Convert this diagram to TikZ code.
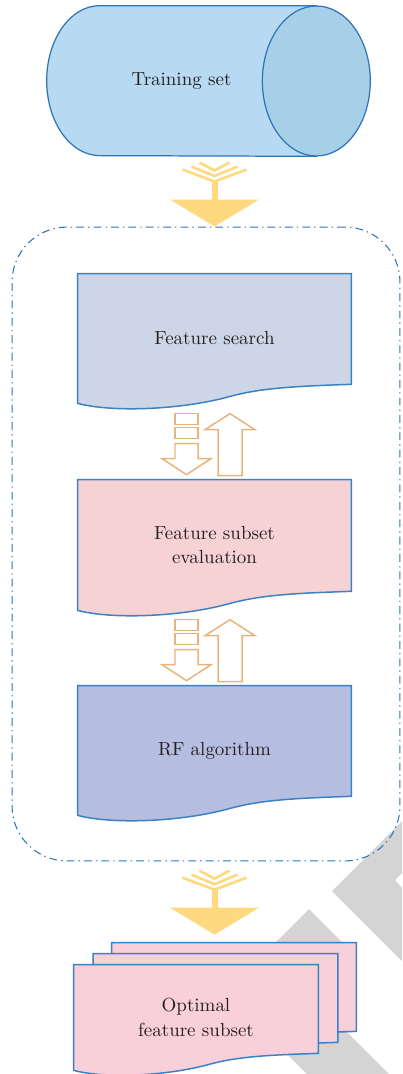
\documentclass[tikz,border=0pt]{standalone}
\usetikzlibrary{calc,backgrounds}
\definecolor{cylbody}{HTML}{B7DAF2}
\definecolor{cylend}{HTML}{A8CFE8}
\definecolor{cylline}{HTML}{2E75B6}
\definecolor{funnel}{HTML}{FFD97F}
\definecolor{searchfill}{HTML}{CCD6E6}
\definecolor{evalfill}{HTML}{F7D2D5}
\definecolor{rffill}{HTML}{B5BDE0}
\definecolor{optfill}{HTML}{F9CFD9}
\definecolor{docline}{HTML}{3A82C4}
\definecolor{swapline}{HTML}{E8B47E}
\definecolor{wmgray}{HTML}{D4D4D4}
\definecolor{ink}{HTML}{231F20}

\newcommand\docoutline[3]{%
  \begin{scope}[shift={(#1.south east)},scale=#3]
    \draw[docedge,fill=#2] (#1.north west) -- (#1.north east) -- (0,-19)
      .. controls (-61,-17) and (-91,-15) .. (-121,-7)
      .. controls (-171,7) and (-241,9) .. (#1.south west) -- cycle;
  \end{scope}}
\newcommand\funnelarrow[1]{%
  \begin{scope}[shift={(#1)}]
    \fill[funnel] (0,0) -- (-44.5,-27) -- (44.5,-27) -- cycle;
    \fill[funnel] (-3,-26) rectangle (3,-45);
    \draw[funnel,line width=1.5pt] (-32,-57) -- (0,-45) -- (32,-57);
    \draw[funnel,line width=1.5pt] (-23,-60) -- (0,-50.5) -- (23,-60);
    \draw[funnel,line width=1.5pt] (-15,-64) -- (0,-56) -- (15,-64);
  \end{scope}}
\newcommand\swaparrows[1]{%
  \begin{scope}[shift={(#1.north)}]
    \draw[swapedge] (-39.5,-66) rectangle (-16.5,-55);
    \draw[swapedge] (-39.5,-52) rectangle (-16.5,-41);
    \draw[swapedge] (-39.5,-36) -- (-16.5,-36) -- (-16.5,-21) -- (-3.5,-21)
      -- (-28,-5) -- (-52.5,-21) -- (-39.5,-21) -- cycle;
    \draw[swapedge] (15.5,-66) -- (40.5,-50) -- (27.5,-50) -- (27.5,-4)
      -- (3.5,-4) -- (3.5,-50) -- (-9.5,-50) -- cycle;
  \end{scope}}

\begin{document}
\begin{tikzpicture}[x=0.02cm,y=-0.02cm,
    every node/.style={text=ink,font=\fontsize{10.8}{14}\selectfont},
    docbox/.style={inner sep=0pt,minimum width=5.46cm,minimum height=2.58cm,align=center},
    stackbox/.style={inner sep=0pt,minimum width=4.88cm,minimum height=2.1cm,align=center},
    docedge/.style={draw=docline,line width=0.85pt},
    swapedge/.style={draw=swapline,line width=0.85pt,fill=white},
    loopbox/.style={draw=cylline,line width=0.6pt,rounded corners=1.1cm,
      dash pattern=on 4.5pt off 2.3pt on 0.8pt off 2.3pt,inner sep=0pt}]
\useasboundingbox (0,0) rectangle (402,1074);

\node[inner sep=0pt,minimum width=5.38cm,minimum height=3cm] (train) at (181.5,81) {Training set};
\node[loopbox,minimum width=7.76cm,minimum height=12.68cm] (loop) at (206,544) {};
\node[docbox] (search) at (214.5,338.5) {Feature search};
\node[docbox,minimum height=2.6cm] (eval) at (214.5,545) {Feature subset\\evaluation};
\node[docbox] (rf) at (214.5,750.5) {RF algorithm};
\node[stackbox] (back) at (234,995.5) {};
\node[stackbox] (middle) at (215.5,1006.5) {};
\node[stackbox] (optimal) at (196,1017.5) {Optimal\\feature subset};

\begin{scope}[on background layer]
  \fill[wmgray] (402,821) -- (332,891) -- (402,961) -- (402,888) -- (395,880) -- (402,873) -- cycle;
  \fill[wmgray] (309,909) -- (350,950) -- (345,1030) -- (389,1074) -- (307,1074) -- (260,1027) -- (270,948) -- cycle;
  \draw[cylline,line width=0.7pt,fill=cylbody] ($(train.north west)+(53,0)$)
    arc[start angle=90,end angle=270,x radius=1.06cm,y radius=1.5cm]
    -- (train.south east) -- (train.north east) -- cycle;
  \draw[cylline,line width=0.7pt,fill=cylend] (train.east) ellipse[x radius=1.08cm,y radius=1.5cm];
  \docoutline{search}{searchfill}{1}
  \docoutline{eval}{evalfill}{1}
  \docoutline{rf}{rffill}{1}
  \docoutline{back}{optfill}{0.894}
  \docoutline{middle}{optfill}{0.894}
  \docoutline{optimal}{optfill}{0.894}
\end{scope}

\funnelarrow{loop.north -| search}
\funnelarrow{$(back.north -| search)+(0,-8)$}
\swaparrows{eval}
\swaparrows{rf}
\end{tikzpicture}
\end{document}
